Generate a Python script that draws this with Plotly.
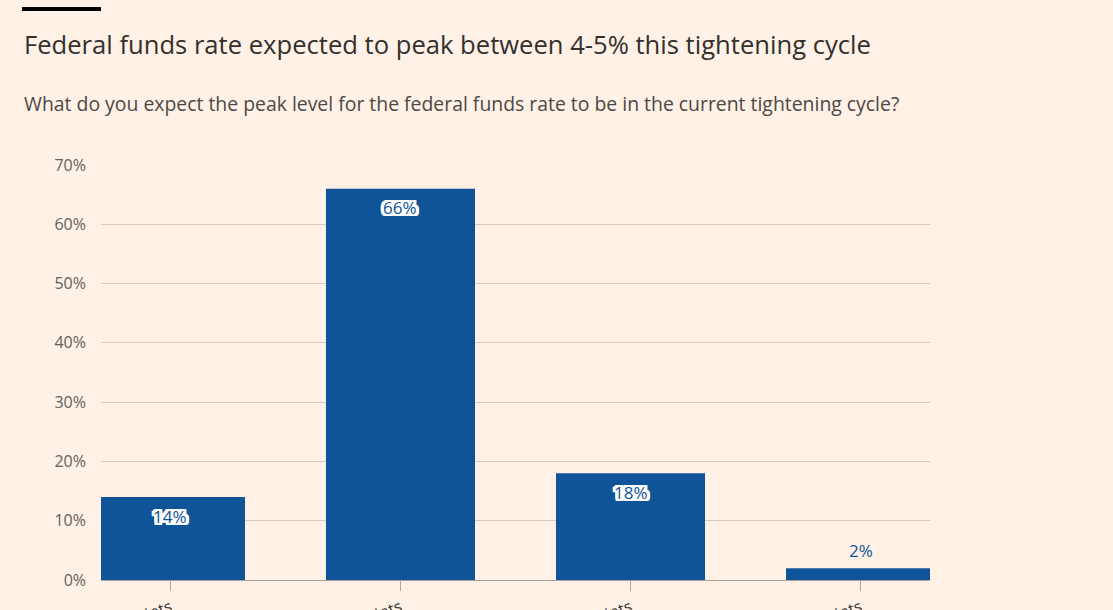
import plotly.graph_objects as go

categories = ["3-4 percentage points", "4-5 percentage points", "5-6 percentage points", "Above 6 percentage points"]
values = [14, 66, 18, 2]
value_labels = ["14%", "66%", "18%", "2%"]
y_ticks = [0, 10, 20, 30, 40, 50, 60, 70]
y_tick_labels = ["0%", "10%", "20%", "30%", "40%", "50%", "60%", "70%"]

W, H = 1113, 610
L, R, T, B = 101, 183, 165, 30
PW, PH = W - L - R, H - T - B

def px_x(x):
    return (x - L) / PW

def px_y(y):
    return (H - B - y) / PH

BG = "#fff1e5"
BLUE = "#0f5499"
FONT = "'Open Sans', 'Noto Sans', sans-serif"

fig = go.Figure()
fig.add_trace(go.Bar(
    x=list(range(len(categories))),
    y=values,
    marker=dict(color=BLUE, line=dict(width=0)),
    hoverinfo="skip",
))

halo = ", ".join(f"{dx}px {dy}px 0 #ffffff" for dx in (-3, -2, -1, 0, 1, 2, 3) for dy in (-2, -1, 0, 1, 2))
for i, (v, lab) in enumerate(zip(values, value_labels)):
    inside = v > 8
    fig.add_annotation(
        x=i, y=v, xref="x", yref="y", text=lab, showarrow=False,
        yanchor="middle", yshift=-19 if inside else 18,
        font=dict(family=FONT, size=17, color=BLUE, shadow=halo if inside else "none"),
    )

fig.add_annotation(
    x=px_x(22), y=px_y(44), xref="paper", yref="paper", xanchor="left", yanchor="middle",
    text="Federal funds rate expected to peak between 4-5% this tightening cycle",
    showarrow=False, font=dict(family=FONT, size=25.6, color="#33302e"),
)
fig.add_annotation(
    x=px_x(22), y=px_y(103), xref="paper", yref="paper", xanchor="left", yanchor="middle",
    text="What do you expect the peak level for the federal funds rate to be in the current tightening cycle?",
    showarrow=False, font=dict(family=FONT, size=19.4, color="#4d4845"),
)
fig.add_shape(
    type="rect", xref="paper", yref="paper",
    x0=px_x(22), x1=px_x(101), y0=px_y(11), y1=px_y(7),
    fillcolor="#000000", line=dict(width=0),
)

fig.update_layout(
    width=W, height=H,
    margin=dict(l=L, r=R, t=T, b=B, autoexpand=False),
    paper_bgcolor=BG, plot_bgcolor=BG,
    showlegend=False,
    bargap=0.352,
    font=dict(family=FONT, color="#66605c"),
)
fig.update_xaxes(
    range=[-0.302, 3.302],
    tickvals=list(range(len(categories))), ticktext=categories,
    tickangle=-20, ticks="outside", ticklen=10, tickcolor="#b3a9a0",
    ticklabelstandoff=1,
    showgrid=False, zeroline=False, showline=False, automargin=False,
    tickfont=dict(family=FONT, size=16, color="#33302e"),
)
fig.update_yaxes(
    range=[0, 70],
    tickvals=y_ticks, ticktext=y_tick_labels,
    showgrid=True, gridcolor="#d9cbc0", gridwidth=1,
    zeroline=True, zerolinecolor="#a8a09a", zerolinewidth=1,
    showline=False, ticks="", ticklabelstandoff=14, automargin=False,
    tickfont=dict(family=FONT, size=16, color="#66605c"),
)

fig.write_html(
    "out.html",
    config={"displayModeBar": False},
    post_script="document.body.style.margin='0';document.body.style.padding='0';document.body.style.background='" + BG + "';",
)
